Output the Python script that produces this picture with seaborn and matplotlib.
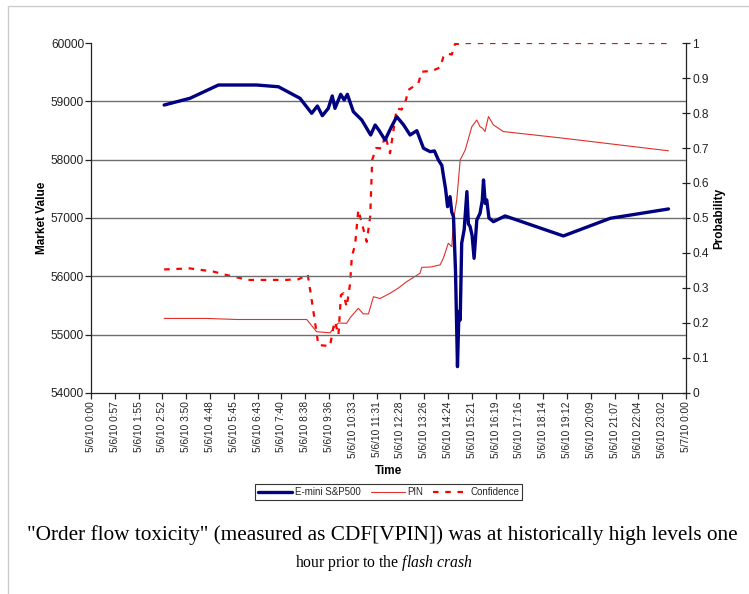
# 5/6/10 flash crash: E-mini price vs PIN / Confidence (CDF[VPIN])
import numpy as np
import pandas as pd
import seaborn as sns
import matplotlib.pyplot as plt
from matplotlib.lines import Line2D

sns.set_style("white")
plt.rcParams['font.family'] = ['Liberation Sans', 'DejaVu Sans']
plt.rcParams['mathtext.fontset'] = 'custom'
plt.rcParams['mathtext.rm'] = 'Liberation Serif'
plt.rcParams['mathtext.it'] = 'Liberation Serif:italic'

# hours since 5/6/10 0:00
market_hours = [2.95, 3.99, 5.14, 6.68, 7.56, 8.43, 8.90, 9.13, 9.33, 9.57, 9.73, 9.84,
                10.07, 10.21, 10.34, 10.58, 10.92, 11.28, 11.46, 11.62, 11.86, 12.10,
                12.33, 12.60, 12.87, 13.14, 13.41, 13.68, 13.85, 14.01, 14.15, 14.22,
                14.30, 14.38, 14.48, 14.55, 14.62, 14.70, 14.78, 14.84, 14.89, 14.95,
                15.05, 15.16, 15.22, 15.29, 15.37, 15.45, 15.56, 15.69, 15.78, 15.83,
                15.90, 15.96, 16.05, 16.23, 16.70, 19.05, 20.94, 23.29]
market_value = [58937, 59052, 59280, 59280, 59250, 59052, 58795, 58920, 58754, 58880, 59092, 58880,
                59120, 59023, 59120, 58823, 58680, 58423, 58594, 58500, 58337, 58550,
                58737, 58600, 58423, 58497, 58195, 58137, 58150, 57995, 57900, 57708,
                57500, 57194, 57366, 57100, 57023, 56100, 54452, 55400, 55252, 56567,
                56800, 57452, 56900, 56852, 56700, 56309, 56966, 57080, 57300, 57652,
                57250, 57309, 57000, 56937, 57035, 56692, 56995, 57155]

pin_hours = [2.95, 4.67, 5.88, 8.70, 9.10, 9.64, 9.84, 9.98, 10.31, 10.45, 10.78, 10.98,
             11.19, 11.39, 11.66, 12.06, 12.40, 12.73, 13.00, 13.27, 13.34, 13.70, 14.08,
             14.21, 14.41, 14.55, 14.62, 14.75, 14.89, 15.09, 15.36, 15.56, 15.69, 15.80,
             15.89, 16.03, 16.23, 16.63, 19.05, 23.29]
pin_value = [0.213, 0.213, 0.210, 0.210, 0.175, 0.172, 0.190, 0.200, 0.199, 0.215, 0.242, 0.226,
             0.226, 0.275, 0.270, 0.285, 0.300, 0.318, 0.330, 0.342, 0.359, 0.360, 0.366,
             0.385, 0.428, 0.418, 0.494, 0.551, 0.666, 0.694, 0.761, 0.780, 0.761, 0.756,
             0.747, 0.790, 0.766, 0.747, 0.728, 0.692]

conf_hours = [2.95, 3.99, 4.93, 5.47, 6.35, 7.83, 8.37, 8.74, 8.90, 9.10, 9.17, 9.64, 9.78,
              9.84, 9.98, 10.08, 10.18, 10.31, 10.45, 10.52, 10.65, 10.78, 10.98, 11.12,
              11.26, 11.34, 11.50, 11.73, 11.86, 12.06, 12.33, 12.53, 12.70, 12.80, 13.20,
              13.34, 13.74, 14.08, 14.21, 14.35, 14.55, 14.68, 15.17, 23.29]
conf_value = [0.353, 0.356, 0.347, 0.337, 0.323, 0.323, 0.325, 0.339, 0.266, 0.171, 0.137, 0.134, 0.190,
              0.204, 0.166, 0.280, 0.285, 0.246, 0.313, 0.390, 0.423, 0.523, 0.470, 0.432,
              0.504, 0.666, 0.700, 0.699, 0.737, 0.685, 0.813, 0.810, 0.837, 0.866, 0.885,
              0.918, 0.920, 0.930, 0.960, 0.970, 0.967, 0.997, 1.000, 1.000]

tick_labels = ["5/6/10 0:00", "5/6/10 0:57", "5/6/10 1:55", "5/6/10 2:52", "5/6/10 3:50",
               "5/6/10 4:48", "5/6/10 5:45", "5/6/10 6:43", "5/6/10 7:40", "5/6/10 8:38",
               "5/6/10 9:36", "5/6/10 10:33", "5/6/10 11:31", "5/6/10 12:28", "5/6/10 13:26",
               "5/6/10 14:24", "5/6/10 15:21", "5/6/10 16:19", "5/6/10 17:16", "5/6/10 18:14",
               "5/6/10 19:12", "5/6/10 20:09", "5/6/10 21:07", "5/6/10 22:04", "5/6/10 23:02",
               "5/7/10 0:00"]

caption_line1 = '"Order flow toxicity" (measured as CDF[VPIN]) was at historically high levels one'
caption_line2 = r'hour prior to the $\it{flash\ crash}$'

df_m = pd.DataFrame({"t": market_hours, "v": market_value})
df_p = pd.DataFrame({"t": pin_hours, "v": pin_value})
df_c = pd.DataFrame({"t": conf_hours, "v": conf_value})

fig = plt.figure(figsize=(7.49, 5.94), dpi=100)
ax = fig.add_axes([0.1215, 0.3384, 0.7945, 0.5892])
ax2 = ax.twinx()

sns.lineplot(data=df_p, x="t", y="v", ax=ax2, color="#e0302c", linewidth=0.8, legend=False, sort=False)
sns.lineplot(data=df_c, x="t", y="v", ax=ax2, color="#ff0000", linewidth=1.6, legend=False,
             sort=False, linestyle=(0, (2.5, 3)))
sns.lineplot(data=df_m, x="t", y="v", ax=ax, color="#000080", linewidth=2.4, legend=False, sort=False)

# market axis drawn above the probability axis
ax.set_zorder(2)
ax.patch.set_visible(False)

ax.set_xlim(0, 24)
ax.set_ylim(54000, 60000)
ax2.set_ylim(0, 1)
ax.set_yticks(np.arange(54000, 60001, 1000))
ax2.set_yticks(np.arange(0, 1.01, 0.1))
ax2.set_yticklabels(["0"] + ["%.1f" % v for v in np.arange(0.1, 0.95, 0.1)] + ["1"])
ax.set_xticks(np.linspace(0, 24, len(tick_labels)))
ax.set_xticklabels(tick_labels, rotation=90, fontsize=7.3, color="#222222")
for v in range(55000, 60000, 1000):
    ax.axhline(v, color="#6e6e6e", linewidth=1.0, zorder=0)

for a in (ax, ax2):
    for s in a.spines.values():
        s.set_visible(False)
ax.spines['left'].set_visible(True)
ax.spines['bottom'].set_visible(True)
ax2.spines['right'].set_visible(True)
for s in (ax.spines['left'], ax.spines['bottom'], ax2.spines['right']):
    s.set_color("#222222")
    s.set_linewidth(0.9)

ax.tick_params(axis='y', direction='out', length=4, width=0.9, labelsize=8.6, colors="#222222",
               left=True, pad=1)
ax.tick_params(axis='x', direction='out', length=4, width=0.9, bottom=True, pad=2)
ax2.tick_params(axis='y', direction='inout', length=6, width=0.9, labelsize=8.6, colors="#222222",
                right=True, pad=1.5)

ax.set_xlabel("Time", fontsize=8.5, fontweight='bold', labelpad=5, color="black")
ax.set_ylabel("Market Value", fontsize=8.5, fontweight='bold', labelpad=2, color="black")
ax2.set_ylabel("Probability", fontsize=8.5, fontweight='bold', labelpad=3, color="black")

handles = [Line2D([], [], color="#000080", linewidth=2.4),
           Line2D([], [], color="#e0302c", linewidth=0.8),
           Line2D([], [], color="#ff0000", linewidth=1.6, linestyle=(0, (2.5, 3)))]
leg = fig.legend(handles, ["E-mini S&P500", "PIN", "Confidence"], loc='center',
                 bbox_to_anchor=(0.519, 0.1717), ncol=3, fontsize=7, frameon=True,
                 fancybox=False, handlelength=3.5, handletextpad=0.3, columnspacing=1.0,
                 borderpad=0.3)
leg.get_frame().set_edgecolor("#000000")
leg.get_frame().set_linewidth(0.8)

# caption: first line spans x=27..741 px, second line centred
W, H = 749, 594
renderer = fig.canvas.get_renderer()
t1 = fig.text(27 / W, 1 - 535 / H, caption_line1, ha='left', va='center', fontsize=11.3,
              family='Liberation Serif', color='black')
w1 = t1.get_window_extent(renderer).width
t1.set_fontsize(11.3 * 714 / w1)
fig.text(0.513, 1 - 563 / H, caption_line2, ha='center', va='center', fontsize=11.3,
         family='Liberation Serif', color='black')

# light thumbnail frame
fig.add_artist(Line2D([8 / W, 8 / W], [0, 1 - 6 / H], transform=fig.transFigure, color="#cccccc", linewidth=1))
fig.add_artist(Line2D([8 / W, 1], [1 - 6 / H, 1 - 6 / H], transform=fig.transFigure, color="#cccccc", linewidth=1))

fig.savefig("out.png", dpi=100)
